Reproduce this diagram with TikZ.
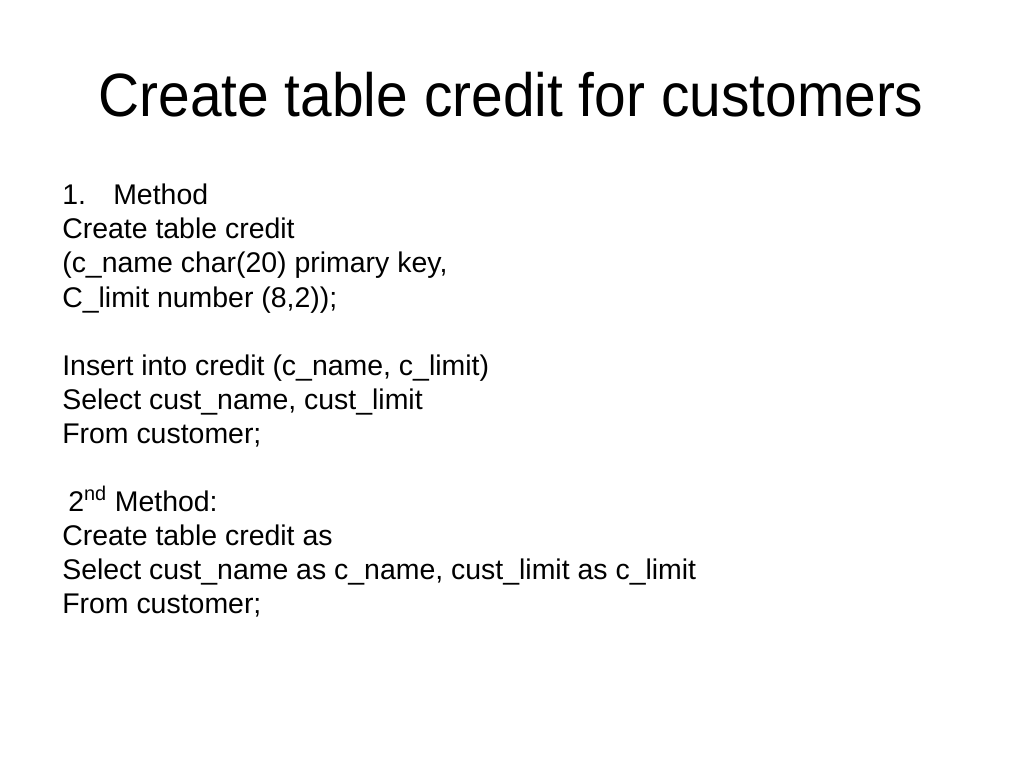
\documentclass[tikz,border=0pt]{standalone}
\usepackage{fontspec}
\setmainfont{Liberation Sans}
\newfontfamily\titlefont[FakeStretch=0.93]{Liberation Sans}
\begin{document}
\begin{tikzpicture}[x=0.703125pt,y=-0.703125pt,
  titletext/.style={anchor=base,inner sep=0pt,font=\titlefont\fontsize{43}{52}\selectfont},
  bodytext/.style={anchor=base west,inner sep=0pt,font=\fontsize{20}{24}\selectfont}]
  \useasboundingbox[fill=white] (0,0) rectangle (1024,768);
  \node[titletext] (title) at (511,117) {Create table credit for customers};
  % first method
  \node[bodytext] (num) at (62,205) {1.};
  \node[bodytext] (meth) at (113,205) {Method};
  \node[bodytext] (ca) at (62,239) {Create table credit};
  \node[bodytext] (cb) at (62,273) {(c\_name char(20) primary key,};
  \node[bodytext] (cc) at (62,307) {C\_limit number (8,2));};
  \node[bodytext] (ia) at (62,375) {Insert into credit (c\_name, c\_limit)};
  \node[bodytext] (ib) at (62,409) {Select cust\_name, cust\_limit};
  \node[bodytext] (ic) at (62,443) {From customer;};
  % second method
  \node[bodytext] (methb) at (68,511) {2\textsuperscript{nd} Method:};
  \node[bodytext] (da) at (62,545) {Create table credit as};
  \node[bodytext] (db) at (62,579) {Select cust\_name as c\_name, cust\_limit as c\_limit};
  \node[bodytext] (dc) at (62,613) {From customer;};
\end{tikzpicture}
\end{document}
